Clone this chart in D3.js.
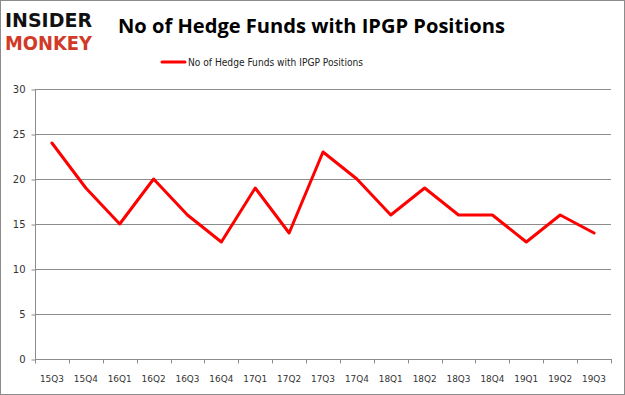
<!DOCTYPE html>
<html>
<head>
<script src="https://d3js.org/d3.v7.min.js"></script>
<style>
  body { margin: 0; background: #fff; }
</style>
</head>
<body>
<div id="vis"></div>
<script>
// data
var quarters = ["15Q3","15Q4","16Q1","16Q2","16Q3","16Q4","17Q1","17Q2","17Q3","17Q4","18Q1","18Q2","18Q3","18Q4","19Q1","19Q2","19Q3"];
var funds = [24,19,15,20,16,13,19,14,23,20,16,19,16,16,13,16,14];
var yTicks = [0,5,10,15,20,25,30];

var width = 625, height = 395;
var svg = d3.select("#vis").append("svg")
  .attr("width", width)
  .attr("height", height);

// outer frame
svg.append("rect")
  .attr("x", 0.5).attr("y", 0.5)
  .attr("width", width - 1).attr("height", height - 1)
  .attr("fill", "#fff").attr("stroke", "#8c8c8c");

// logo
svg.append("text").attr("x", 5).attr("y", 27)
  .attr("font-family", "DejaVu Sans").attr("font-weight", "bold")
  .attr("font-size", 20).attr("textLength", 87).attr("lengthAdjust", "spacingAndGlyphs")
  .attr("fill", "#111").text("INSIDER");
svg.append("text").attr("x", 5).attr("y", 50)
  .attr("font-family", "DejaVu Sans").attr("font-weight", "bold")
  .attr("font-size", 20).attr("textLength", 87).attr("lengthAdjust", "spacingAndGlyphs")
  .attr("fill", "#d23a28").text("MONKEY");

// title
svg.append("text").attr("x", 118).attr("y", 33)
  .attr("font-family", "Open Sans").attr("font-weight", "bold")
  .attr("font-size", 20).attr("textLength", 387).attr("lengthAdjust", "spacingAndGlyphs")
  .attr("fill", "#000").text("No of Hedge Funds with IPGP Positions");

// legend
svg.append("line").attr("x1", 162).attr("x2", 185).attr("y1", 62).attr("y2", 62)
  .attr("stroke", "#ff0000").attr("stroke-width", 3).attr("stroke-linecap", "round");
svg.append("text").attr("x", 188).attr("y", 66)
  .attr("font-family", "DejaVu Sans").attr("font-size", 10.5)
  .attr("textLength", 175).attr("lengthAdjust", "spacingAndGlyphs")
  .attr("fill", "#222").text("No of Hedge Funds with IPGP Positions");

var plotL = 35, plotR = 611, plotT = 89, plotB = 359;

var x = d3.scaleBand().domain(quarters).range([plotL, plotR]);
var y = d3.scaleLinear().domain([0, 30]).range([plotB, plotT]);

// gridlines
svg.append("g").selectAll("line").data(yTicks.filter(function (d) { return d > 0; }))
  .enter().append("line")
  .attr("x1", plotL).attr("x2", plotR)
  .attr("y1", function (d) { return Math.round(y(d)) + 0.5; })
  .attr("y2", function (d) { return Math.round(y(d)) + 0.5; })
  .attr("stroke", "#8c8c8c");

// y axis
var yAxis = svg.append("g")
  .attr("transform", "translate(" + (plotL + 0.5) + ",0.5)")
  .call(d3.axisLeft(y).tickValues(yTicks).tickSize(4).tickPadding(6));
yAxis.select(".domain").attr("stroke", "#8c8c8c").attr("d", "M0," + plotT + "V" + plotB);
yAxis.selectAll(".tick line").attr("stroke", "#8c8c8c");
yAxis.selectAll("text").attr("font-family", "DejaVu Sans").attr("font-size", 10).attr("fill", "#333");

// x axis
var xAxis = svg.append("g")
  .attr("transform", "translate(0," + (plotB + 0.5) + ")");
xAxis.append("line").attr("x1", plotL).attr("x2", plotR + 1)
  .attr("stroke", "#8c8c8c");
xAxis.selectAll("line.tk").data(quarters.concat(["end"])).enter().append("line")
  .attr("class", "tk")
  .attr("x1", function (d, i) { return Math.round(plotL + i * x.step()) + 0.5; })
  .attr("x2", function (d, i) { return Math.round(plotL + i * x.step()) + 0.5; })
  .attr("y1", 0).attr("y2", 4).attr("stroke", "#8c8c8c");
xAxis.selectAll("text").data(quarters).enter().append("text")
  .attr("x", function (d) { return x(d) + x.bandwidth() / 2; })
  .attr("y", 22)
  .attr("text-anchor", "middle")
  .attr("font-family", "DejaVu Sans").attr("font-size", 9.5)
  .attr("textLength", 24).attr("lengthAdjust", "spacingAndGlyphs")
  .attr("fill", "#333").text(function (d) { return d; });

// series line
var line = d3.line()
  .x(function (d, i) { return x(quarters[i]) + x.bandwidth() / 2; })
  .y(function (d) { return y(d); });

svg.append("path").datum(funds)
  .attr("d", line)
  .attr("fill", "none")
  .attr("stroke", "#ff0000")
  .attr("stroke-width", 3)
  .attr("stroke-linejoin", "round")
  .attr("stroke-linecap", "round");
</script>
</body>
</html>
